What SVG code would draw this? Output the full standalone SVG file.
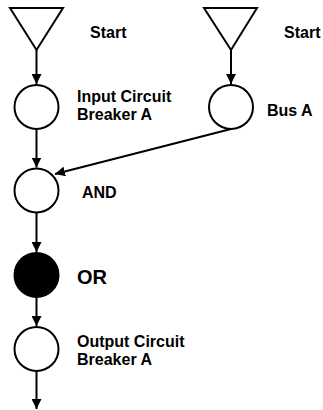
<svg xmlns="http://www.w3.org/2000/svg" width="323" height="410" viewBox="0 0 323 410">
<defs>
<style>
.n{fill:#fff;stroke:#000;stroke-width:2}
.f{fill:#000;stroke:#000;stroke-width:2}
.e{fill:none;stroke:#000;stroke-width:2}
text{font-family:"Liberation Sans",Arial,sans-serif;font-weight:bold;font-size:16px;fill:#000}
.big{font-size:20px}
</style>
<marker id="ah" viewBox="0 0 10 10" refX="10" refY="5" markerWidth="5" markerHeight="5" orient="auto" markerUnits="strokeWidth">
<path d="M0,0 L10,5 L0,10 z" fill="#000"/>
</marker>
</defs>
<rect width="323" height="410" fill="#fff"/>
<g id="start1">
<polygon class="n" points="10,8 63,8 36.5,50"/>
<text x="90" y="38">Start</text>
</g>
<g id="start2">
<polygon class="n" points="204,8 257,8 231,50"/>
<text x="284" y="38">Start</text>
</g>
<g id="input-cb">
<circle class="n" cx="36.5" cy="107" r="22"/>
<text x="77" y="102">Input Circuit</text>
<text x="77" y="120">Breaker A</text>
</g>
<g id="bus-a">
<circle class="n" cx="231" cy="107" r="22"/>
<text x="267" y="116">Bus A</text>
</g>
<g id="and">
<circle class="n" cx="36.5" cy="190.5" r="22"/>
<text x="82" y="198">AND</text>
</g>
<g id="or">
<circle class="f" cx="36.5" cy="275" r="22"/>
<text class="big" x="77" y="284">OR</text>
</g>
<g id="output-cb">
<circle class="n" cx="36.5" cy="349" r="22"/>
<text x="77" y="347">Output Circuit</text>
<text x="77" y="365">Breaker A</text>
</g>
<g id="connectors">
<line class="e" x1="36.5" y1="50" x2="36.5" y2="84" marker-end="url(#ah)"/>
<line class="e" x1="231" y1="50" x2="231" y2="84" marker-end="url(#ah)"/>
<line class="e" x1="36.5" y1="129" x2="36.5" y2="167.5" marker-end="url(#ah)"/>
<line class="e" x1="231" y1="129" x2="55" y2="174" marker-end="url(#ah)"/>
<line class="e" x1="36.5" y1="212.5" x2="36.5" y2="252" marker-end="url(#ah)"/>
<line class="e" x1="36.5" y1="297" x2="36.5" y2="326" marker-end="url(#ah)"/>
<line class="e" x1="36.5" y1="371" x2="36.5" y2="409" marker-end="url(#ah)"/>
</g>
</svg>
